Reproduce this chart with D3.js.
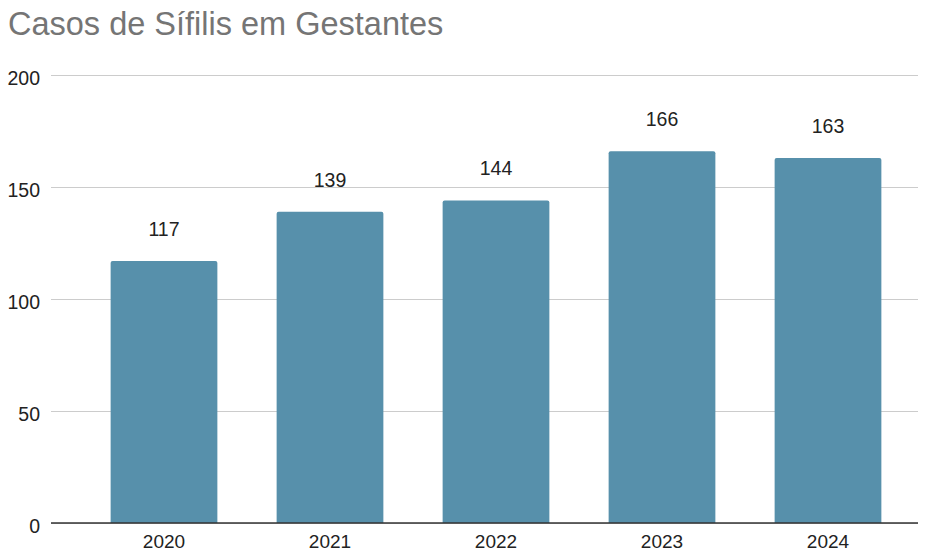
<!DOCTYPE html>
<html><head><meta charset="utf-8">
<script src="https://cdn.jsdelivr.net/npm/d3@7"></script>
<style>body{margin:0;background:#fff}svg{display:block}text{font-family:"Liberation Sans",Arial,sans-serif}</style>
</head><body>
<svg id="chart" width="928" height="551"></svg>
<script>
const years = ["2020","2021","2022","2023","2024"];
const cases = [117,139,144,166,163];
const yTicks = [0,50,100,150,200];
const title = "Casos de Sífilis em Gestantes";

const svg = d3.select("#chart");
const y = d3.scaleLinear().domain([0,200]).range([523,75]);
const x = d3.scaleBand().domain(years).range([81,911]).paddingInner(0.357).paddingOuter(0.1785);

svg.append("text").attr("x",8).attr("y",35).attr("fill","#757575")
  .attr("font-size","32.5px").text(title);

const gy = svg.append("g").attr("transform","translate(51,0)")
  .call(d3.axisLeft(y).tickValues(yTicks).tickSize(-(918-51)).tickPadding(11));
gy.select(".domain").remove();
gy.selectAll(".tick line").attr("stroke","#cccccc").attr("stroke-width",1);
gy.selectAll(".tick text").attr("fill","#222").attr("font-size","19.5px")
  .attr("font-family","'Liberation Sans',Arial,sans-serif").attr("dy",null).attr("y",9);

const data = years.map((d,i)=>({year:d,v:cases[i]}));
svg.append("g").selectAll("path").data(data).join("path")
  .attr("fill","#5790ab")
  .attr("d",d=>{
    const x0=x(d.year), w=x.bandwidth(), y0=y(d.v), y1=y(0), r=2;
    return `M${x0},${y1}V${y0+r}Q${x0},${y0} ${x0+r},${y0}H${x0+w-r}Q${x0+w},${y0} ${x0+w},${y0+r}V${y1}Z`;
  });

svg.append("g").selectAll("text").data(data).join("text")
  .attr("x",d=>x(d.year)+x.bandwidth()/2).attr("y",d=>y(d.v)-25)
  .attr("text-anchor","middle").attr("font-size","19.5px").attr("fill","#222")
  .attr("font-family","Roboto,Arial,sans-serif")
  .text(d=>d.v);

const gx = svg.append("g").attr("transform","translate(0,523)")
  .call(d3.axisBottom(x).tickSize(0));
gx.select(".domain").remove();
gx.selectAll(".tick text").attr("fill","#222").attr("font-size","19px")
  .attr("font-family","'Liberation Sans',Arial,sans-serif").attr("dy",null).attr("y",25);
svg.append("line").attr("x1",51).attr("x2",918).attr("y1",523).attr("y2",523)
  .attr("stroke","#333").attr("stroke-width",1.5);
</script>
</body></html>
